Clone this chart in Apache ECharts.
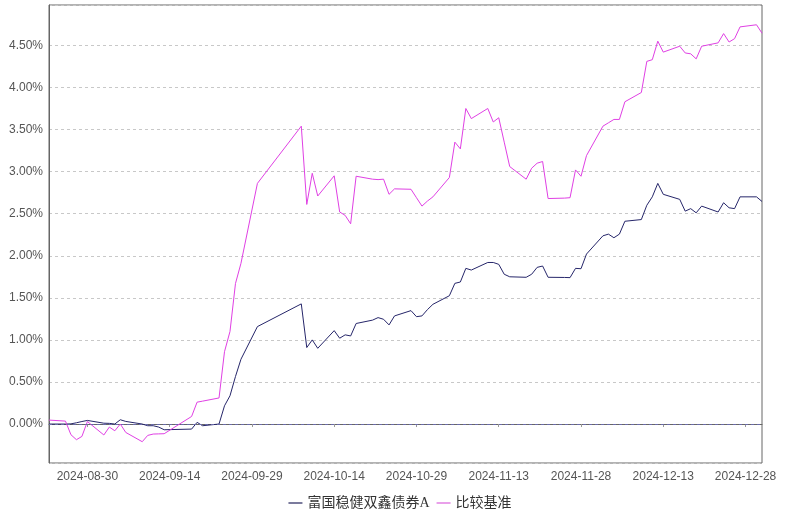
<!DOCTYPE html>
<html>
<head>
<meta charset="utf-8">
<script src="https://cdn.jsdelivr.net/npm/echarts@6/dist/echarts.min.js"></script>
<style>html,body{margin:0;padding:0;background:#fff}#c{width:800px;height:512px}</style>
</head>
<body>
<div id="c"></div>
<script>
var seriesNames = ['富国稳健双鑫债券A', '比较基准'];
var tradeDates = ['2024-08-23','2024-08-26','2024-08-27','2024-08-28','2024-08-29','2024-08-30',
'2024-09-02','2024-09-03','2024-09-04','2024-09-05','2024-09-06','2024-09-09','2024-09-10','2024-09-11','2024-09-12','2024-09-13',
'2024-09-18','2024-09-19','2024-09-20','2024-09-23','2024-09-24','2024-09-25','2024-09-26','2024-09-27','2024-09-30',
'2024-10-08','2024-10-09','2024-10-10','2024-10-11','2024-10-14','2024-10-15','2024-10-16','2024-10-17','2024-10-18',
'2024-10-21','2024-10-22','2024-10-23','2024-10-24','2024-10-25','2024-10-28','2024-10-29','2024-10-30','2024-10-31',
'2024-11-01','2024-11-04','2024-11-05','2024-11-06','2024-11-07','2024-11-08','2024-11-11','2024-11-12','2024-11-13','2024-11-14','2024-11-15',
'2024-11-18','2024-11-19','2024-11-20','2024-11-21','2024-11-22','2024-11-25','2024-11-26','2024-11-27','2024-11-28','2024-11-29',
'2024-12-02','2024-12-03','2024-12-04','2024-12-05','2024-12-06','2024-12-09','2024-12-10','2024-12-11','2024-12-12','2024-12-13',
'2024-12-16','2024-12-17','2024-12-18','2024-12-19','2024-12-20','2024-12-23','2024-12-24','2024-12-25','2024-12-26','2024-12-27',
'2024-12-30','2024-12-31'];
var fundValues = [0.000,0.000,0.002,0.015,0.030,0.043,
0.010,0.008,0.000,0.051,0.031,0.000,-0.020,-0.020,-0.036,-0.068,
-0.060,0.020,-0.020,0.000,0.217,0.336,0.565,0.770,1.158,
1.428,0.909,1.000,0.900,1.110,1.020,1.060,1.047,1.195,
1.235,1.265,1.245,1.178,1.285,1.348,1.276,1.285,1.360,
1.423,1.525,1.672,1.688,1.850,1.830,1.920,1.920,1.898,1.780,1.750,
1.744,1.780,1.862,1.878,1.744,1.742,1.740,1.850,1.846,2.020,
2.237,2.257,2.214,2.257,2.410,2.430,2.600,2.700,2.860,2.730,
2.670,2.530,2.560,2.510,2.590,2.520,2.630,2.570,2.560,2.700,
2.700,2.645];
var benchValues = [0.047,0.035,-0.127,-0.186,-0.147,0.030,
-0.130,-0.036,-0.080,0.000,-0.100,-0.210,-0.135,-0.119,-0.117,-0.115,
0.090,0.260,0.272,0.310,0.860,1.100,1.670,1.910,2.860,
3.540,2.610,2.980,2.710,2.950,2.520,2.480,2.380,2.945,
2.910,2.905,2.910,2.730,2.795,2.790,2.690,2.590,2.650,
2.700,2.930,3.350,3.270,3.750,3.630,3.750,3.590,3.640,3.350,3.060,
2.910,3.040,3.100,3.120,2.680,2.685,2.690,3.020,2.945,3.190,
3.540,3.580,3.620,3.620,3.830,3.940,4.310,4.330,4.550,4.420,
4.490,4.410,4.400,4.340,4.490,4.530,4.640,4.540,4.580,4.720,
4.745,4.645];
var axisStart = '2024-08-23';
var axisEnd = '2024-12-31';
var labelStartDate = '2024-08-30';
var labelEveryDays = 15;

// build calendar-day categories
function fmt(d){var m=d.getUTCMonth()+1,dd=d.getUTCDate();return d.getUTCFullYear()+'-'+(m<10?'0':'')+m+'-'+(dd<10?'0':'')+dd;}
var days = [];
for (var t = Date.parse(axisStart+'T00:00:00Z'); t <= Date.parse(axisEnd+'T00:00:00Z'); t += 86400000) days.push(fmt(new Date(t)));
function toSeries(vals){
  var m = {}; tradeDates.forEach(function(d,i){ m[d]=vals[i]; });
  return days.map(function(d){ return (d in m) ? m[d] : null; });
}
var labelOffset = days.indexOf(labelStartDate);
function showIdx(i){ return i >= labelOffset && (i - labelOffset) % labelEveryDays === 0; }

var chart = echarts.init(document.getElementById('c'), null, {renderer:'canvas'});
var font = "'Liberation Sans', Arial, sans-serif";
chart.setOption({
  animation: false,
  backgroundColor: '#fff',
  grid: {left: 49, right: 38, top: 5, bottom: 49, show: true, borderColor: '#666', borderWidth: 1, containLabel: false},
  legend: {
    top: 491, left: 'center', itemWidth: 14, itemHeight: 2, itemGap: 7, icon: 'rect',
    textStyle: {fontSize: 14, color: '#333', fontFamily: "serif, 'Noto Sans CJK SC'"},
    data: [
      {name: seriesNames[0], itemStyle: {color: '#7b7b9d'}},
      {name: seriesNames[1], itemStyle: {color: '#e9a0ea'}}
    ]
  },
  xAxis: {
    type: 'category', data: days, boundaryGap: false,
    axisLine: {lineStyle: {color: '#666'}},
    axisTick: {show: true, length: 3, interval: function(i){return showIdx(i);}, lineStyle: {color: '#999'}},
    axisLabel: {interval: function(i){return showIdx(i);}, color: '#555', fontSize: 12, fontFamily: font, margin: 8},
    splitLine: {show: false}
  },
  yAxis: {
    type: 'value', min: -0.463, max: 4.98, splitNumber: 10,
    axisLine: {show: true, lineStyle: {color: '#666'}},
    axisTick: {show: false},
    axisLabel: {showMinLabel: false, showMaxLabel: false, color: '#555', fontSize: 12, fontFamily: font, margin: 6,
      formatter: function(v){ return v.toFixed(2) + '%'; }},
    splitLine: {show: true, lineStyle: {color: '#c8c8c8', type: [3, 3], width: 1}}
  },
  series: [
    {name: seriesNames[0], type: 'line', data: toSeries(fundValues), connectNulls: true, showSymbol: false, symbol: 'none',
      lineStyle: {color: '#26266a', width: 1}, itemStyle: {color: '#26266a'},
      markLine: {silent: true, symbol: 'none', label: {show: false}, lineStyle: {color: '#6a6aa8', type: [3, 3], width: 1}, data: [{yAxis: 0}]}},
    {name: seriesNames[1], type: 'line', data: toSeries(benchValues), connectNulls: true, showSymbol: false, symbol: 'none',
      lineStyle: {color: '#e040e4', width: 1}, itemStyle: {color: '#e040e4'}}
  ]
});
</script>
</body>
</html>
